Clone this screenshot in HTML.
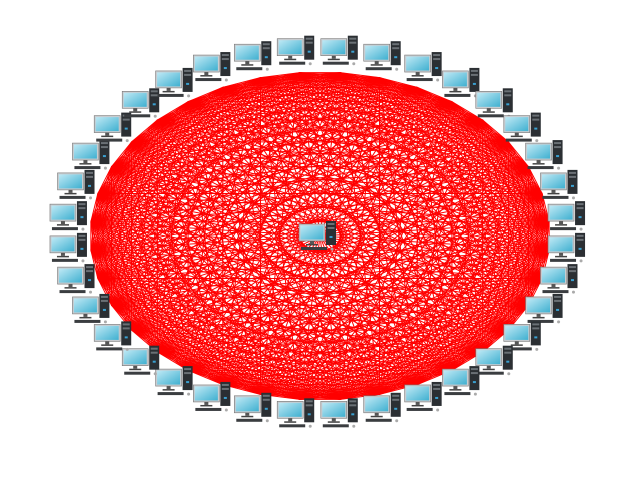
<!DOCTYPE html>
<html><head><meta charset="utf-8"><style>
html,body{margin:0;padding:0;background:#fff;width:640px;height:480px;overflow:hidden;font-family:"Liberation Sans",sans-serif}
</style></head><body>
<svg id="chart" width="640" height="480" viewBox="0 0 640 480">
<defs>
<linearGradient id="scr" x1="0" y1="0" x2="1" y2="1"><stop offset="0" stop-color="#bfe9f5"/><stop offset="1" stop-color="#3fb0d0"/></linearGradient>
<g id="pc">
<rect x="-19" y="-12" width="26" height="17" fill="#c8ccd0" stroke="#777" stroke-width="0.6"/>
<rect x="-17.5" y="-10.5" width="23" height="14" fill="url(#scr)"/>
<rect x="-8" y="5" width="4" height="3" fill="#555"/>
<rect x="-12" y="8" width="12" height="1.5" fill="#444"/>
<rect x="8" y="-15" width="10" height="24" fill="#2b2f33"/>
<rect x="9.5" y="-13" width="7" height="2" fill="#6a7075"/>
<rect x="9.5" y="-9" width="7" height="2" fill="#6a7075"/>
<rect x="11.5" y="0" width="3" height="2" fill="#3aa0d0"/>
<rect x="-17" y="11" width="26" height="3" fill="#3a3d40"/>
<circle cx="14" cy="13" r="1.5" fill="#aaa"/>
</g>
</defs>
<g id="edges"></g>
<g id="nodes"></g>
</svg>
<script>
const nodeCount = [36];
const nodeIds = Array.from({length: nodeCount[0]}, (_, i) => i);
const ns = "http://www.w3.org/2000/svg";
const cx = 318, cy = 232;
function iconPos(i){const a=(i+0.5)/nodeIds.length*2*Math.PI;return [cx+250*Math.sin(a), cy-182*Math.cos(a)];}
function edgePos(i){const a=(i+0.5)/nodeIds.length*2*Math.PI;return [cx+2+230*Math.sin(a), cy+4-164*Math.cos(a)];}
const eg=document.getElementById('edges');
for(let i=0;i<nodeIds.length;i++){for(let j=i+1;j<nodeIds.length;j++){
 const [x1,y1]=edgePos(nodeIds[i]),[x2,y2]=edgePos(nodeIds[j]);
 const l=document.createElementNS(ns,'line');
 l.setAttribute('x1',x1);l.setAttribute('y1',y1);l.setAttribute('x2',x2);l.setAttribute('y2',y2);
 l.setAttribute('stroke','#ff0000');l.setAttribute('stroke-width','1');
 
 
 eg.appendChild(l);
}}
const ng=document.getElementById('nodes');
function addPc(x,y,name){
 const u=document.createElementNS(ns,'use');
 u.setAttribute('href','#pc');u.setAttribute('transform','translate('+x+','+y+')');
 
 
 ng.appendChild(u);
}
nodeIds.forEach(i=>{const [x,y]=iconPos(i);addPc(x,y,'computer-node');});
addPc(318,236,'center-computer');
</script>
</body></html>
